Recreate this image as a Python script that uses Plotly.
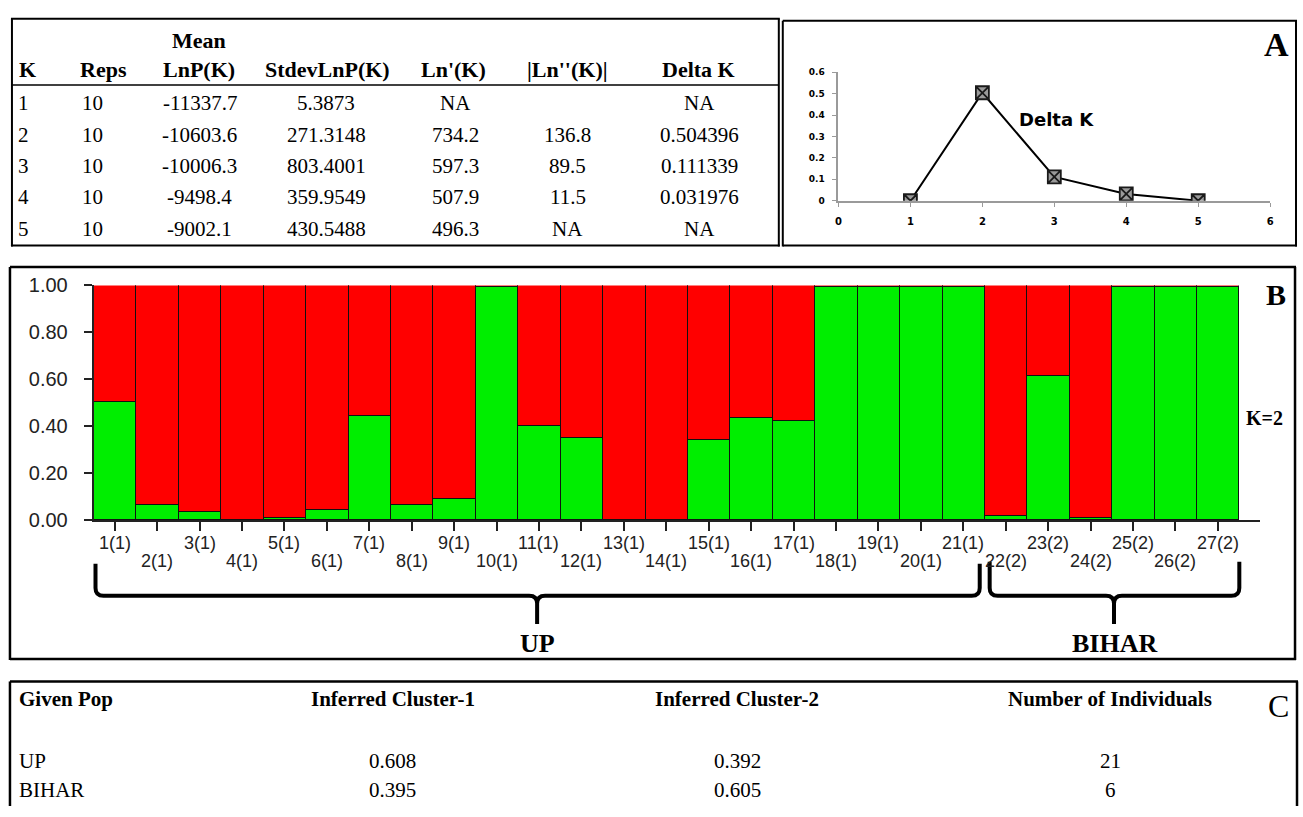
import plotly.graph_objects as go

# ---------------- data ----------------
k_values = [1, 2, 3, 4, 5]
reps = ["10", "10", "10", "10", "10"]
mean_lnp = ["-11337.7", "-10603.6", "-10006.3", "-9498.4", "-9002.1"]
stdev_lnp = ["5.3873", "271.3148", "803.4001", "359.9549", "430.5488"]
ln_prime = ["NA", "734.2", "597.3", "507.9", "496.3"]
ln_dprime = ["", "136.8", "89.5", "11.5", "NA"]
delta_k_text = ["NA", "0.504396", "0.111339", "0.031976", "NA"]
delta_k_plot = [0, 0.504396, 0.111339, 0.031976, 0]

individuals = ["1(1)", "2(1)", "3(1)", "4(1)", "5(1)", "6(1)", "7(1)", "8(1)", "9(1)",
               "10(1)", "11(1)", "12(1)", "13(1)", "14(1)", "15(1)", "16(1)", "17(1)",
               "18(1)", "19(1)", "20(1)", "21(1)", "22(2)", "23(2)", "24(2)", "25(2)",
               "26(2)", "27(2)"]
cluster_green = [0.503, 0.062, 0.032, 0.0, 0.005, 0.039, 0.441, 0.062, 0.086, 0.993,
                 0.397, 0.349, 0.0, 0.0, 0.339, 0.432, 0.419, 0.993, 0.993, 0.993,
                 0.993, 0.015, 0.613, 0.005, 0.99, 0.993, 0.993]
cluster_red = [round(1 - g, 3) for g in cluster_green]

given_pop = ["UP", "BIHAR"]
inferred_c1 = ["0.608", "0.395"]
inferred_c2 = ["0.392", "0.605"]
n_individuals = ["21", "6"]

# ---------------- geometry helpers ----------------
W, H = 1303, 817


def px(x):
    return x / W


def py(y):
    return 1 - y / H


SERIF = "Liberation Serif, Times New Roman, serif"
SANS = "Liberation Sans, Arial, sans-serif"
VERD = "DejaVu Sans, Verdana, sans-serif"

fig = go.Figure()

# ---------------- Delta K line chart ----------------
fig.add_trace(go.Scatter(
    x=k_values, y=delta_k_plot, mode="lines+markers",
    line=dict(color="black", width=2),
    marker=dict(symbol="square-x", size=13, color="#9a9a9a",
                line=dict(color="#1a1a1a", width=1.8)),
    xaxis="x", yaxis="y", showlegend=False, hoverinfo="skip"))

# ---------------- Structure bar plot ----------------
bar_x = list(range(1, len(individuals) + 1))
fig.add_trace(go.Bar(x=bar_x, y=cluster_green, marker=dict(color="#00ee00", line=dict(color="#111", width=1)),
                     xaxis="x2", yaxis="y2", showlegend=False, width=1))
fig.add_trace(go.Bar(x=bar_x, y=cluster_red, marker=dict(color="#ff0000", line=dict(color="#111", width=1)),
                     xaxis="x2", yaxis="y2", showlegend=False, width=1))

fig.update_layout(
    width=W, height=H, autosize=False,
    margin=dict(l=0, r=0, t=0, b=0),
    paper_bgcolor="white", plot_bgcolor="white",
    barmode="stack", bargap=0,
    xaxis=dict(domain=[px(840), px(1274)], range=[0, 6], dtick=1, tick0=0,
               showgrid=False, zeroline=False, showline=True, linecolor="#9a9a9a", linewidth=2,
               ticks="outside", ticklen=4, tickcolor="#9a9a9a", ticklabelstandoff=6,
               tickfont=dict(family=VERD, size=10, color="black", weight="bold"),
               anchor="y", fixedrange=True),
    yaxis=dict(domain=[py(195), py(63)], range=[0, 0.6], dtick=0.1, tick0=0,
               showgrid=False, zeroline=False, showline=True, linecolor="#9a9a9a", linewidth=2,
               ticks="outside", ticklen=4, tickcolor="#9a9a9a", ticklabelstandoff=6,
               tickfont=dict(family=VERD, size=9, color="black", weight="bold"),
               anchor="x", fixedrange=True),
    xaxis2=dict(domain=[px(91), px(1264)], range=[0.5, 28.0], tickvals=bar_x,
                showticklabels=False, showgrid=False, zeroline=False,
                showline=True, linecolor="#222", linewidth=1.5,
                ticks="outside", ticklen=9, tickcolor="#222", tickwidth=1.5,
                anchor="y2", fixedrange=True),
    yaxis2=dict(domain=[py(523), py(282)], range=[0, 1.0], dtick=0.2, tick0=0, tickformat=".2f",
                showgrid=False, zeroline=False, showline=True, linecolor="#222", linewidth=1.5,
                ticks="outside", ticklen=8, tickcolor="#222", tickwidth=1.5, ticklabelstandoff=12,
                tickfont=dict(family=SANS, size=20, color="#222"),
                anchor="x2", fixedrange=True),
)

shapes = []
annotations = []


def line(x0, y0, x1, y1, w=2, color="black"):
    shapes.append(dict(type="line", xref="paper", yref="paper",
                       x0=px(x0), y0=py(y0), x1=px(x1), y1=py(y1),
                       line=dict(color=color, width=w)))


def text(x, y, s, size=18, family=SERIF, bold=False, xanchor="center", color="black"):
    annotations.append(dict(xref="paper", yref="paper", x=px(x), y=py(y), text=s,
                            showarrow=False, xanchor=xanchor, yanchor="middle",
                            font=dict(family=family, size=size, color=color,
                                      weight="bold" if bold else "normal")))


# ---------------- Panel A table ----------------
line(8, 8, 781, 8, 2)
line(9, 8, 9, 242, 2)
line(8, 241, 781, 241, 2)
line(780, 8, 780, 242, 2)
line(9, 76, 780, 76, 1.5)

# chart box
line(784, 10, 1301, 10, 2)
line(784, 10, 784, 242, 2)
line(784, 241, 1301, 241, 2)
line(1300, 10, 1300, 242, 2)

HS, DS = 22, 21
text(197, 30, "Mean", HS, bold=True)
text(14, 60, "K", HS, bold=True, xanchor="left")
text(75, 60, "Reps", HS, bold=True, xanchor="left")
text(197, 60, "LnP(K)", HS, bold=True)
text(326, 60, "StdevLnP(K)", HS, bold=True)
text(453, 60, "Ln'(K)", HS, bold=True)
text(568, 60, "|Ln''(K)|", HS, bold=True)
text(699, 60, "Delta K", HS, bold=True)

row_y = [95, 127, 159, 191, 224]
for i, yy in enumerate(row_y):
    text(13, yy, str(k_values[i]), DS, xanchor="left")
    text(77, yy, reps[i], DS, xanchor="left")
    text(198, yy, mean_lnp[i], DS)
    text(325, yy, stdev_lnp[i], DS)
    text(455, yy, ln_prime[i], DS)
    text(568, yy, ln_dprime[i], DS)
    text(700, yy, delta_k_text[i], DS)

text(1059, 112, "Delta K", 18, family=VERD, bold=True)
text(1280, 34, "A", 34, bold=True)

# ---------------- Panel B ----------------
line(7, 263, 1300, 263, 2.5)
line(7, 263, 7, 667, 2.5)
line(7, 666, 1300, 666, 2.5)
line(1299, 263, 1299, 667, 2.5)

for i, lab in enumerate(individuals):
    annotations.append(dict(xref="x2", yref="paper", x=bar_x[i],
                            y=py(547 if i % 2 == 0 else 565), text=lab, showarrow=False,
                            xanchor="center", yanchor="middle",
                            font=dict(family=SANS, size=18, color="#222")))

text(1268, 418, "K=2", 20, bold=True)
text(1280, 291, "B", 30, bold=True)


def brace(xl, xr, xc, ytop, ybar, ytip, r=8):
    pts = [
        f"M {px(xl)},{py(ytop)}",
        f"L {px(xl)},{py(ybar - r)}",
        f"Q {px(xl)},{py(ybar)} {px(xl + r)},{py(ybar)}",
        f"L {px(xc - r)},{py(ybar)}",
        f"Q {px(xc)},{py(ybar)} {px(xc)},{py(ybar + r)}",
        f"L {px(xc)},{py(ytip)}",
        f"M {px(xc)},{py(ybar + r)}",
        f"Q {px(xc)},{py(ybar)} {px(xc + r)},{py(ybar)}",
        f"L {px(xr - r)},{py(ybar)}",
        f"Q {px(xr)},{py(ybar)} {px(xr)},{py(ybar - r)}",
        f"L {px(xr)},{py(ytop)}",
    ]
    shapes.append(dict(type="path", xref="paper", yref="paper", path=" ".join(pts),
                       line=dict(color="black", width=4)))


brace(93, 982, 537, 568, 601, 630)
brace(992, 1243, 1117, 566, 601, 630)

text(537, 650, "UP", 26, bold=True)
text(1118, 650, "BIHAR", 26, bold=True)

# ---------------- Panel C table ----------------
line(7, 689, 1302, 689, 2.5)
line(7, 689, 7, 817, 2.5)
line(1301, 689, 1301, 817, 2.5)

CS = 21
text(14, 707, "Given Pop", CS, bold=True, xanchor="left")
text(392, 707, "Inferred Cluster-1", CS, bold=True)
text(738, 707, "Inferred Cluster-2", CS, bold=True)
text(1113, 707, "Number of Individuals", CS, bold=True)
text(1282, 714, "C", 32)

for i, yy in enumerate([771, 801]):
    text(14, yy, given_pop[i], CS, xanchor="left")
    text(392, yy, inferred_c1[i], CS)
    text(738, yy, inferred_c2[i], CS)
    text(1113, yy, n_individuals[i], CS)

fig.update_layout(shapes=shapes, annotations=annotations)
fig.write_html("out.html", config={"displayModeBar": False},
               post_script="document.body.style.margin='0px';document.body.style.overflow='hidden';")
